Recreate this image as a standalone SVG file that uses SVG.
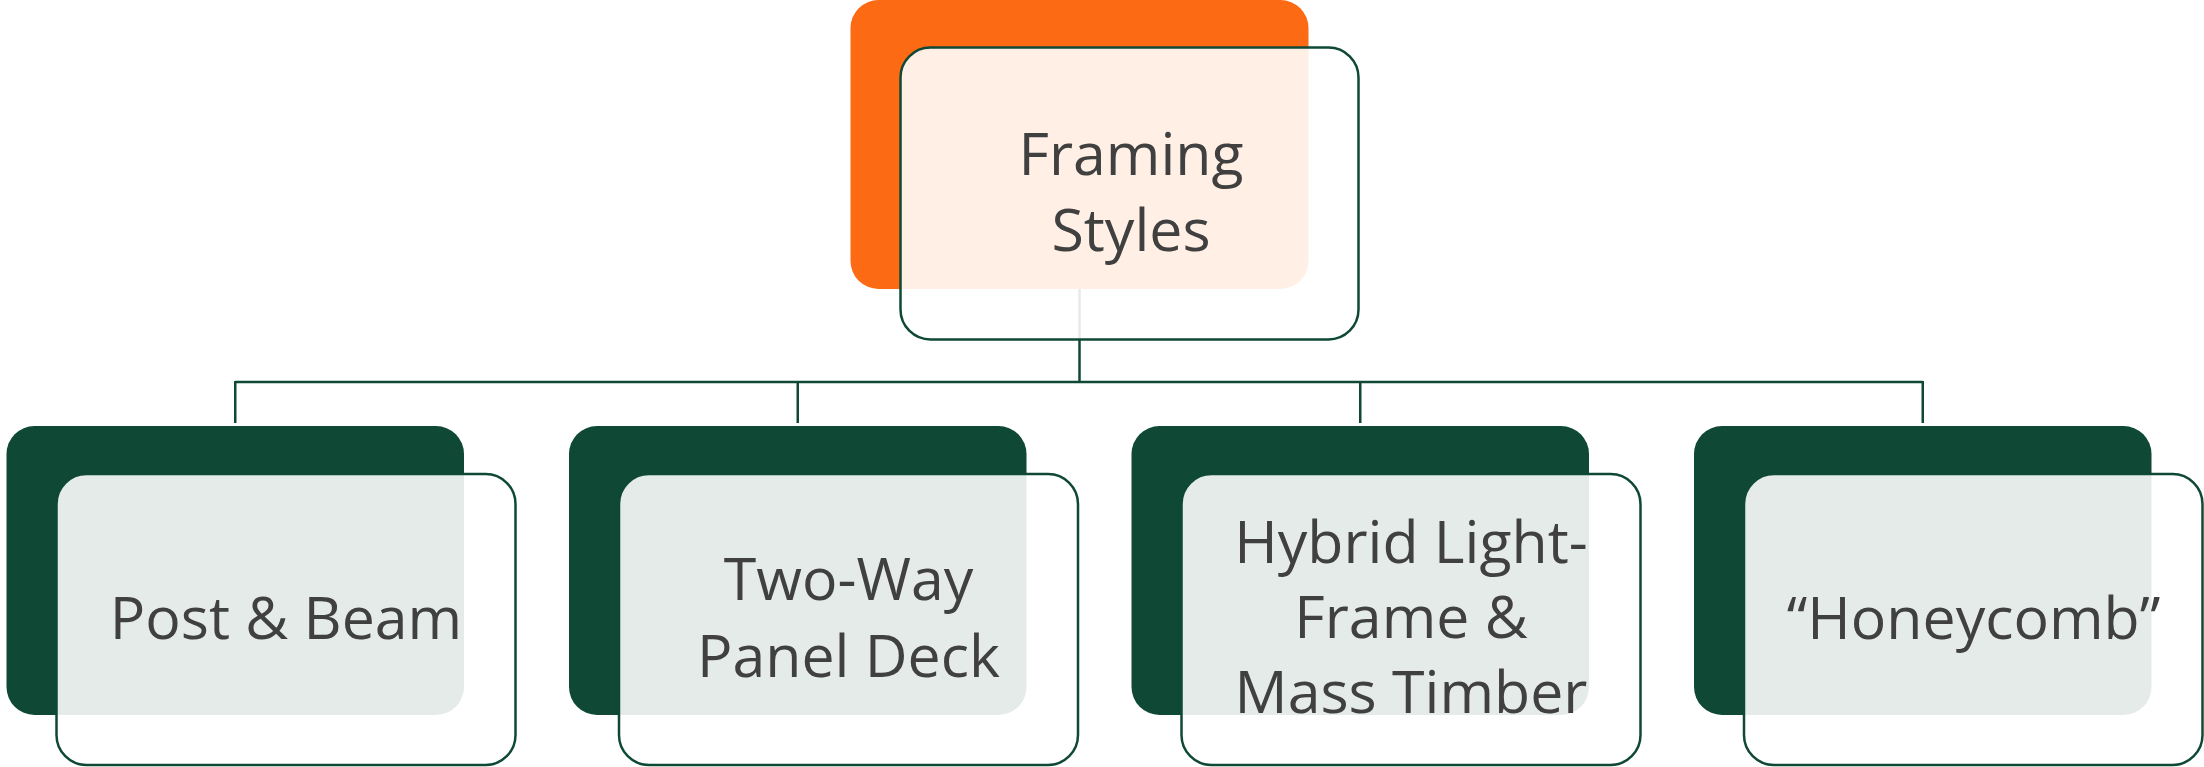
<svg xmlns="http://www.w3.org/2000/svg" width="2204" height="767" viewBox="0 0 2204 767">
<style>
.bg{fill:#ffffff}
.conn{stroke:#0F4935;stroke-width:2.5;fill:none}
.orange{fill:#FD6A14}
.green{fill:#0F4935}
.frame{fill:#ffffff;fill-opacity:0.89;stroke:#0F4935;stroke-width:2.5}
.lbl{font-family:"Open Sans","Noto Sans","DejaVu Sans",sans-serif;font-size:59px;font-weight:500;fill:#404040;text-anchor:middle}
</style>
<rect class="bg" x="0" y="0" width="2204" height="767"/>
<g id="connectors">
<path class="conn" d="M1079.5 289 V382"/>
<path class="conn" d="M235.25 382 H1922.75"/>
<path class="conn" d="M235.25 381 V423"/>
<path class="conn" d="M797.75 381 V423"/>
<path class="conn" d="M1360.25 381 V423"/>
<path class="conn" d="M1922.75 381 V423"/>
</g>
<g id="node-framing-styles">
<rect class="orange" x="850.5" y="0" width="458" height="289" rx="28"/>
<rect class="frame" x="900.5" y="47.5" width="458" height="292" rx="30"/>
<text class="lbl" x="1131" y="175">Framing</text>
<text class="lbl" x="1131" y="251">Styles</text>
</g>
<g id="node-post-beam">
<rect class="green" x="6.5" y="426" width="457.5" height="289" rx="28"/>
<rect class="frame" x="56.5" y="474" width="459" height="291" rx="30"/>
<text class="lbl" x="286" y="639">Post &amp; Beam</text>
</g>
<g id="node-two-way">
<rect class="green" x="569" y="426" width="457.5" height="289" rx="28"/>
<rect class="frame" x="619" y="474" width="459" height="291" rx="30"/>
<text class="lbl" x="848.5" y="600">Two-Way</text>
<text class="lbl" x="848.5" y="677">Panel Deck</text>
</g>
<g id="node-hybrid">
<rect class="green" x="1131.5" y="426" width="457.5" height="289" rx="28"/>
<rect class="frame" x="1181.5" y="474" width="459" height="291" rx="30"/>
<text class="lbl" x="1411" y="563">Hybrid Light-</text>
<text class="lbl" x="1411" y="638">Frame &amp;</text>
<text class="lbl" x="1411" y="713">Mass Timber</text>
</g>
<g id="node-honeycomb">
<rect class="green" x="1694" y="426" width="457.5" height="289" rx="28"/>
<rect class="frame" x="1744" y="474" width="458.5" height="291" rx="30"/>
<text class="lbl" x="1973.5" y="639">“Honeycomb”</text>
</g>
</svg>
